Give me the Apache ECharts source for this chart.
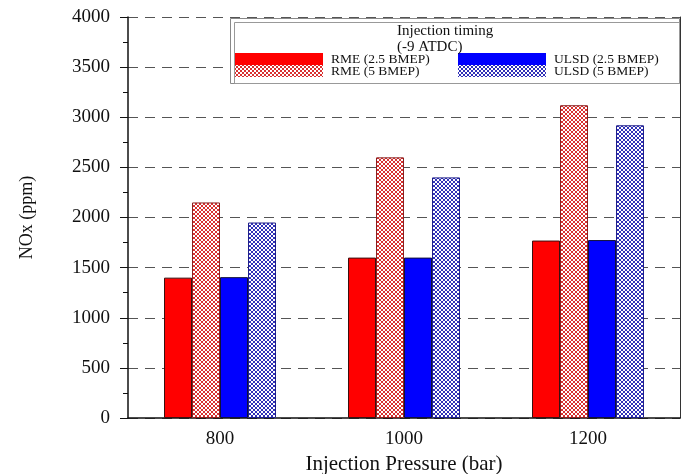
<!DOCTYPE html>
<html>
<head>
<meta charset="utf-8">
<script src="https://cdn.jsdelivr.net/npm/echarts@6/dist/echarts.min.js"></script>
<style>html,body{margin:0;padding:0;background:#fff}#c{width:686px;height:474px}</style>
</head>
<body>
<div id="c"></div>
<script>
// ---- data ----
const categories = ['800', '1000', '1200'];
const rme25 = [1400, 1600, 1770];
const rme5 = [2150, 2600, 3120];
const ulsd25 = [1405, 1600, 1775];
const ulsd5 = [1950, 2400, 2920];
const seriesNames = ['RME (2.5 BMEP)', 'RME (5 BMEP)', 'ULSD (2.5 BMEP)', 'ULSD (5 BMEP)'];
const xTitle = 'Injection Pressure (bar)';
const yTitle = 'NOx (ppm)';
const legendTitle = 'Injection timing\n(-9 ATDC)';

function makePattern(color) {
  const c = document.createElement('canvas');
  c.width = 4; c.height = 4;
  const ctx = c.getContext('2d');
  ctx.fillStyle = '#ffffff';
  ctx.fillRect(0, 0, 4, 4);
  ctx.fillStyle = color;
  const px = [[0,0],[1,1],[2,2],[3,3],[3,0],[2,1],[1,2],[0,3]];
  px.forEach(function (p) { ctx.fillRect(p[0], p[1], 1, 1); });
  return c;
}
const redPat = { image: makePattern('#d83030'), repeat: 'repeat' };
const bluePat = { image: makePattern('#3030b8'), repeat: 'repeat' };

const FONT = '"Liberation Serif", "Times New Roman", serif';
const chart = echarts.init(document.getElementById('c'), null, { renderer: 'canvas' });

function legendAt(name, left, top) {
  return {
    data: [name], left: left, top: top, orient: 'horizontal', padding: 0,
    itemWidth: 88, itemHeight: 12, itemGap: 0, icon: 'rect',
    itemStyle: { borderWidth: 0 },
    textStyle: { fontFamily: FONT, fontSize: 13.5, color: '#111', padding: [0, 0, 0, 3] },
    selectedMode: false, z: 20
  };
}

chart.setOption({
  animation: false,
  backgroundColor: '#fff',
  grid: { left: 128, right: 6, top: 17, bottom: 56, outerBoundsMode: 'none', containLabel: false },
  title: {
    text: legendTitle, left: 397, top: 23, padding: 0, z: 20,
    textStyle: { fontFamily: FONT, fontSize: 15, fontWeight: 'normal', color: '#111', lineHeight: 16 }
  },
  graphic: [
    { type: 'rect', left: 230, top: 18, shape: { width: 449, height: 65 }, style: { fill: '#fff', stroke: '#888', lineWidth: 1 }, z: 10 },
    { type: 'rect', left: 232, top: 20, shape: { width: 445, height: 61 }, style: { fill: 'none', stroke: '#999', lineWidth: 1 }, z: 10 }
  ],
  legend: [
    legendAt(seriesNames[0], 235, 52),
    legendAt(seriesNames[1], 235, 64),
    legendAt(seriesNames[2], 458, 52),
    legendAt(seriesNames[3], 458, 64)
  ],
  xAxis: {
    type: 'category', data: categories, boundaryGap: true,
    name: xTitle, nameLocation: 'middle', nameGap: 28,
    nameTextStyle: { fontFamily: FONT, fontSize: 21, color: '#111' },
    axisLine: { lineStyle: { color: '#111', width: 1.5 } },
    axisTick: { alignWithLabel: true, inside: false, length: 6, lineStyle: { color: '#111', width: 1.5 } },
    axisLabel: { fontFamily: FONT, fontSize: 19, color: '#111', margin: 12 },
    splitLine: { show: false }
  },
  yAxis: [{
    type: 'value', min: 0, max: 4000, interval: 500,
    name: yTitle, nameLocation: 'middle', nameGap: 92,
    nameTextStyle: { fontFamily: FONT, fontSize: 18, color: '#111' },
    axisLine: { show: true, lineStyle: { color: '#111', width: 1.5 } },
    axisTick: { show: true, inside: false, length: 8, lineStyle: { color: '#111', width: 1 } },
    minorTick: { show: true, splitNumber: 2, length: 5, lineStyle: { color: '#111', width: 1 } },
    axisLabel: { fontFamily: FONT, fontSize: 19, color: '#111', margin: 18, formatter: function (v) { return String(v); } },
    splitLine: { show: true, lineStyle: { color: '#555', type: [10, 7], width: 1 } }
  }, {
    type: 'value', min: 0, max: 4000, interval: 500, position: 'right',
    axisLine: { show: true, lineStyle: { color: '#333', width: 1 } },
    axisTick: { show: false }, axisLabel: { show: false }, splitLine: { show: false }
  }],
  series: [
    { name: seriesNames[0], type: 'bar', data: rme25, barWidth: 28, barGap: '0%',
      itemStyle: { color: '#ff0000', borderColor: '#3a1010', borderWidth: 1 } },
    { name: seriesNames[1], type: 'bar', data: rme5, barWidth: 28, barGap: '0%',
      itemStyle: { color: redPat, borderColor: '#8a2020', borderWidth: 1 } },
    { name: seriesNames[2], type: 'bar', data: ulsd25, barWidth: 28, barGap: '0%',
      itemStyle: { color: '#0000ff', borderColor: '#10103a', borderWidth: 1 } },
    { name: seriesNames[3], type: 'bar', data: ulsd5, barWidth: 28, barGap: '0%',
      itemStyle: { color: bluePat, borderColor: '#20208a', borderWidth: 1 } }
  ]
});
</script>
</body>
</html>
